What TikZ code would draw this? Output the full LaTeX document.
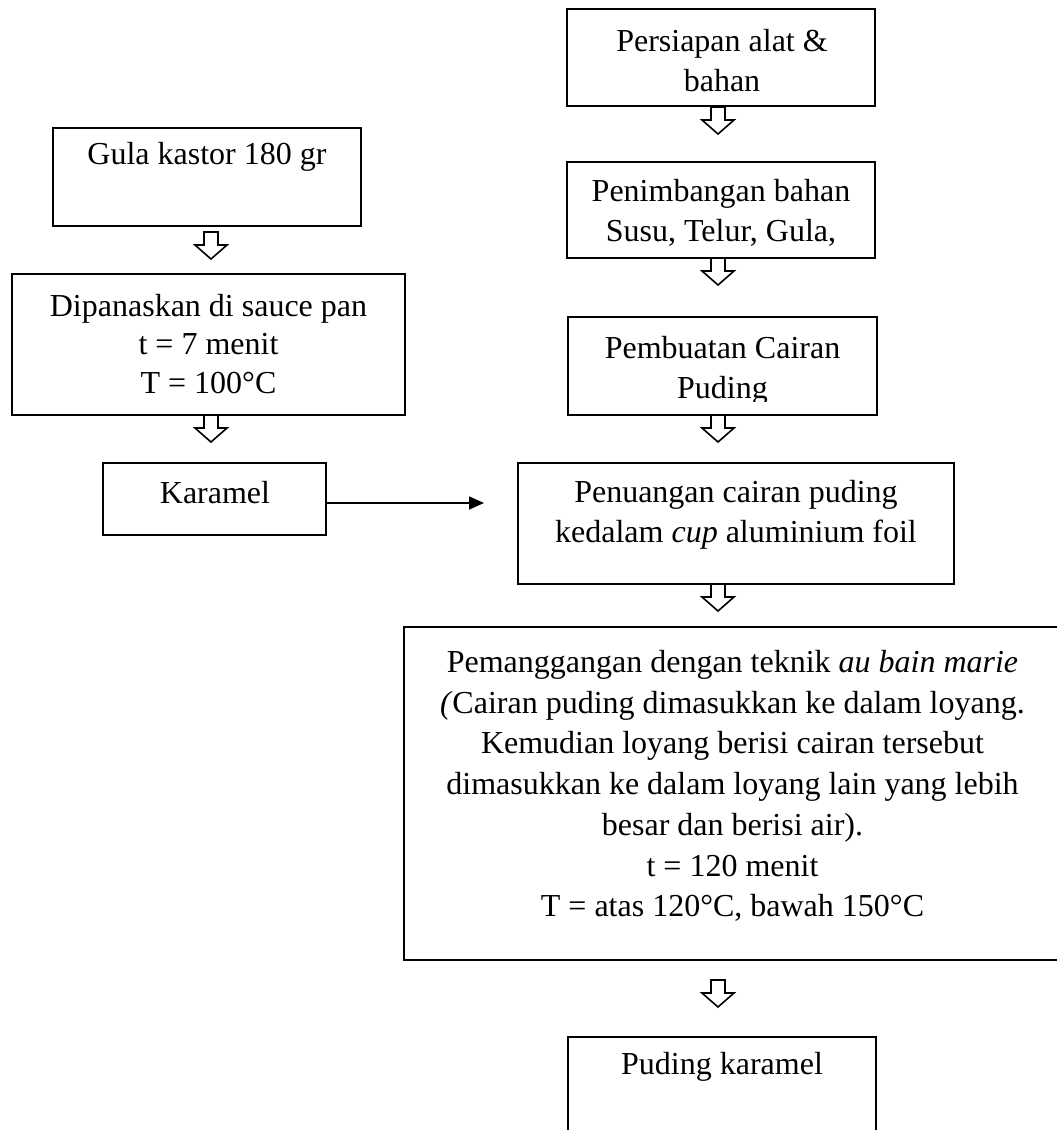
\documentclass[tikz,border=0pt]{standalone}
\usepackage{fontspec}
\setmainfont{Liberation Serif}
\usetikzlibrary{calc,arrows.meta}
\begin{document}
\begin{tikzpicture}[x=1pt,y=-1pt,
  box/.style={draw, line width=2.2pt, rectangle, inner sep=0pt},
  txt/.style={align=center, inner sep=0pt, font=\fontsize{32}{40}\selectfont},
  harrow/.pic={\draw[line width=1.6pt, line join=miter] (-7,0) -- (7,0) -- (7,13) -- (16,13) -- (0,27) -- (-16,13) -- (-7,13) -- cycle;}
]
\useasboundingbox (0,0) rectangle (1057,1130);
\fill[white] (0,0) rectangle (1057,1130);

% right column boxes
\node[box, minimum width=308pt, minimum height=97pt] (persiapan) at (721,57.5) {};
\node[txt] (persiapanT) at (722,61) {Persiapan alat \&\\bahan};
\pic at (718,107) {harrow};

\node[box, minimum width=308pt, minimum height=96pt] (penimbangan) at (721,210) {};
\node[txt] (penimbanganT) at (721,213) {Penimbangan bahan\\Susu, Telur, Gula,};
\pic at (718,258) {harrow};

\node[box, minimum width=309pt, minimum height=98pt] (pembuatan) at (722.5,366) {};
\begin{scope}
  \clip (560,317) rectangle (880,401);
  \node[txt] (pembuatanT) at (722.5,371) {Pembuatan Cairan\\Puding};
\end{scope}
\pic at (718,415) {harrow};

\node[box, minimum width=436pt, minimum height=121pt] (penuangan) at (736,523.5) {};
\node[txt] (penuanganT) at (736,515) {Penuangan cairan puding\\kedalam \textit{cup} aluminium foil};
\pic at (718,584) {harrow};

\node[box, minimum width=658pt, minimum height=333pt] (pemanggangan) at (733,793.5) {};
\node[txt, font=\fontsize{32}{40.7}\selectfont] (pemangganganT) at (732.5,786)
  {Pemanggangan dengan teknik \textit{au bain marie}\\
   \textit{(}Cairan puding dimasukkan ke dalam loyang.\\
   Kemudian loyang berisi cairan tersebut\\
   dimasukkan ke dalam loyang lain yang lebih\\
   besar dan berisi air).\\
   t = 120 menit\\
   T = atas 120°C, bawah 150°C};
\pic at (718,980) {harrow};

\node[box, minimum width=308pt, minimum height=108pt] (puding) at (722,1091) {};
\node[txt] (pudingT) at (722,1067) {Puding karamel};

% left column boxes
\node[box, minimum width=308pt, minimum height=98pt] (gula) at (207,177) {};
\node[txt] (gulaT) at (207,157) {Gula kastor 180 gr};
\pic at (211,232) {harrow};

\node[box, minimum width=393pt, minimum height=141pt] (dipanaskan) at (208.5,344.5) {};
\node[txt, font=\fontsize{32}{38.5}\selectfont] (dipanaskanT) at (208.5,344) {Dipanaskan di sauce pan\\t = 7 menit\\T = 100°C};
\pic at (211,415) {harrow};

\node[box, minimum width=223pt, minimum height=72pt] (karamel) at (214.5,499) {};
\node[txt] (karamelT) at (215,493) {Karamel};

\coordinate (kend) at (484,503);
\draw[line width=1.6pt, -{Triangle[length=15pt,width=13pt]}] ([yshift=-4pt]karamel.east) -- (kend);
\end{tikzpicture}
\end{document}
